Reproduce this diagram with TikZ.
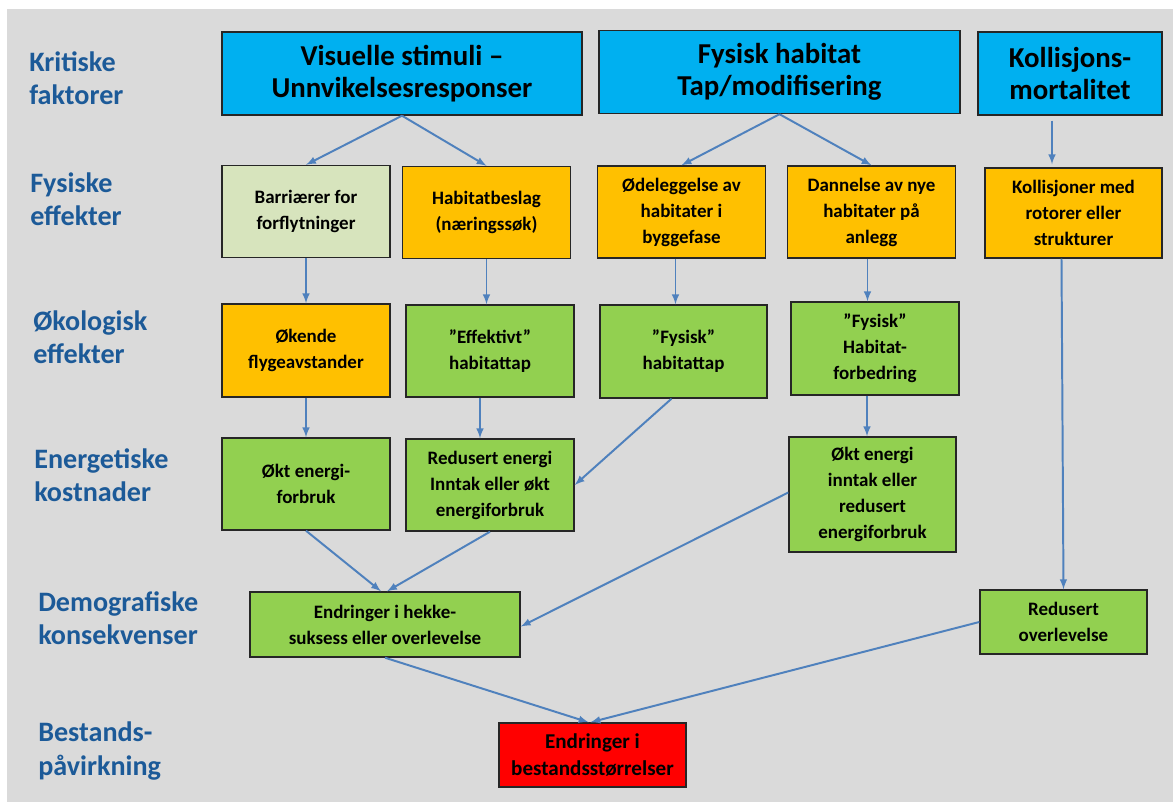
\documentclass[tikz,border=0pt]{standalone}
\usepackage{fontspec}
\setmainfont{Carlito}

\definecolor{bgrey}{HTML}{DADADA}
\definecolor{topblue}{HTML}{00B0F0}
\definecolor{amber}{HTML}{FFC000}
\definecolor{leaf}{HTML}{92D050}
\definecolor{paleleaf}{HTML}{D7E4BD}
\definecolor{rowblue}{HTML}{1C5A98}
\definecolor{arrowblue}{HTML}{4F81BD}

\begin{document}
\begin{tikzpicture}[
  x=0.025cm, y=-0.025cm,
  box/.style={draw=black!85, line width=1pt, align=center, inner sep=0pt,
    minimum width=4.2cm, minimum height=2.3cm,
    font=\bfseries\fontsize{13.5}{18.5}\selectfont},
  critical/.style={box, fill=topblue, minimum height=2.075cm,
    font=\bfseries\fontsize{20.5}{22.5}\selectfont},
  amberbox/.style={box, fill=amber},
  leafbox/.style={box, fill=leaf},
  palebox/.style={box, fill=paleleaf},
  alarmbox/.style={box, fill=red, font=\bfseries\fontsize{15}{19}\selectfont},
  level/.style={anchor=west, align=left, inner sep=0pt, text=rowblue,
    font=\bfseries\fontsize{20}{23.5}\selectfont},
  flow/.style={-latex, draw=arrowblue, line width=1.4pt},
]
%canvas
\useasboundingbox (0,0) rectangle (1173,802);
\fill[bgrey] (7,9) rectangle (1173,802);

%row titles
\node[level] (l1) at (29,78)  {Kritiske\\faktorer};
\node[level] (l2) at (30,199) {Fysiske\\effekter};
\node[level] (l3) at (33,337) {Økologisk\\effekter};
\node[level] (l4) at (34,475) {Energetiske\\kostnader};
\node[level] (l5) at (38,618) {Demografiske\\konsekvenser};
\node[level] (l6) at (38,751) {Bestands-\\påvirkning};

%critical factors
\node[critical, minimum width=9cm]     (vis) at (402,73.5) {Visuelle stimuli --\\Unnvikelsesresponser};
\node[critical, minimum width=9.025cm] (hab) at (779.5,72) {Fysisk habitat\\Tap/modifisering};
\node[critical, minimum width=4.6cm]   (kol) at (1070,73.5) {Kollisjons-\\mortalitet};

%physical effects
\node[palebox]  (bar) at (306,211.5)   {Barriærer for\\forflytninger};
\node[amberbox] (beslag) at (486.5,212.5) {Habitatbeslag\\(næringssøk)};
\node[amberbox] (ode) at (681.5,212)   {Ødeleggelse av\\habitater i\\byggefase};
\node[amberbox] (dan) at (871.5,212)   {Dannelse av nye\\habitater på\\anlegg};
\node[amberbox, minimum width=4.425cm, minimum height=2.25cm] (kolr) at (1073.5,213) {Kollisjoner med\\rotorer eller\\strukturer};

%ecological effects
\node[amberbox, minimum height=2.325cm] (flyg) at (306,350.5) {Økende\\flygeavstander};
\node[leafbox] (eff) at (490,351)    {”Effektivt”\\habitattap};
\node[leafbox, minimum width=4.175cm, minimum height=2.325cm] (ftap) at (683.5,351.5) {”Fysisk”\\habitattap};
\node[leafbox, minimum height=2.325cm] (forb) at (875,348.5) {”Fysisk”\\Habitat-\\forbedring};

%energetic costs
\node[leafbox] (forbr) at (306,484) {Økt energi-\\forbruk};
\node[leafbox] (redin) at (490,485) {Redusert energi\\Inntak eller økt\\energiforbruk};
\node[leafbox, minimum width=4.175cm, minimum height=2.875cm] (oktin) at (872.5,494.5) {Økt energi\\inntak eller\\redusert\\energiforbruk};

%demographic consequences
\node[leafbox, minimum width=6.75cm, minimum height=1.625cm] (hekk) at (385,624.5) {Endringer i hekke-\\suksess eller overlevelse};
\node[leafbox, minimum width=4.175cm, minimum height=1.6cm] (overl) at (1063.5,622) {Redusert\\overlevelse};

%population
\node[alarmbox, minimum width=4.675cm, minimum height=1.6cm] (best) at (592.5,755) {Endringer i\\bestandsstørrelser};

%arrows
\draw[flow] (vis.south) -- (bar.north);
\draw[flow] (vis.south) -- (beslag.north);
\draw[flow] (hab.south) -- (ode.north);
\draw[flow] (hab.south) -- (dan.north);
\draw[flow, shorten >=0.075cm] ([xshift=-0.45cm,yshift=-0.125cm]kol.south) -- ([xshift=-0.45cm]kol.south |- kolr.north);

\draw[flow] (bar.south) -- (flyg.north);
\draw[flow] (beslag.south) -- (beslag.south |- eff.north);
\draw[flow] ([xshift=-0.15cm]ode.south) -- ([xshift=-0.15cm]ode.south |- ftap.north);
\draw[flow] ([xshift=-0.1cm]dan.south) -- ([xshift=-0.1cm]dan.south |- forb.north);

\draw[flow] (flyg.south) -- (forbr.north);
\draw[flow] ([xshift=-0.25cm]eff.south) -- ([xshift=-0.25cm]eff.south |- redin.north);
\draw[flow] ([xshift=-0.3cm]ftap.south) -- (redin.east);
\draw[flow] ([xshift=-0.2cm]forb.south) -- ([xshift=-0.2cm]forb.south |- oktin.north);
\draw[flow] ([xshift=-0.3cm]kolr.south) -- (overl.north);

\draw[flow] (forbr.south) -- ([xshift=-0.1cm]hekk.north);
\draw[flow] (redin.south) -- ([xshift=0.05cm]hekk.north);
\draw[flow] ([yshift=0.05cm]oktin.west) -- ([yshift=-0.05cm]hekk.east);

\draw[flow] (hekk.south) -- ([xshift=-0.1cm]best.north);
\draw[flow] (overl.west) -- ([xshift=-0.05cm]best.north);

\end{tikzpicture}
\end{document}
